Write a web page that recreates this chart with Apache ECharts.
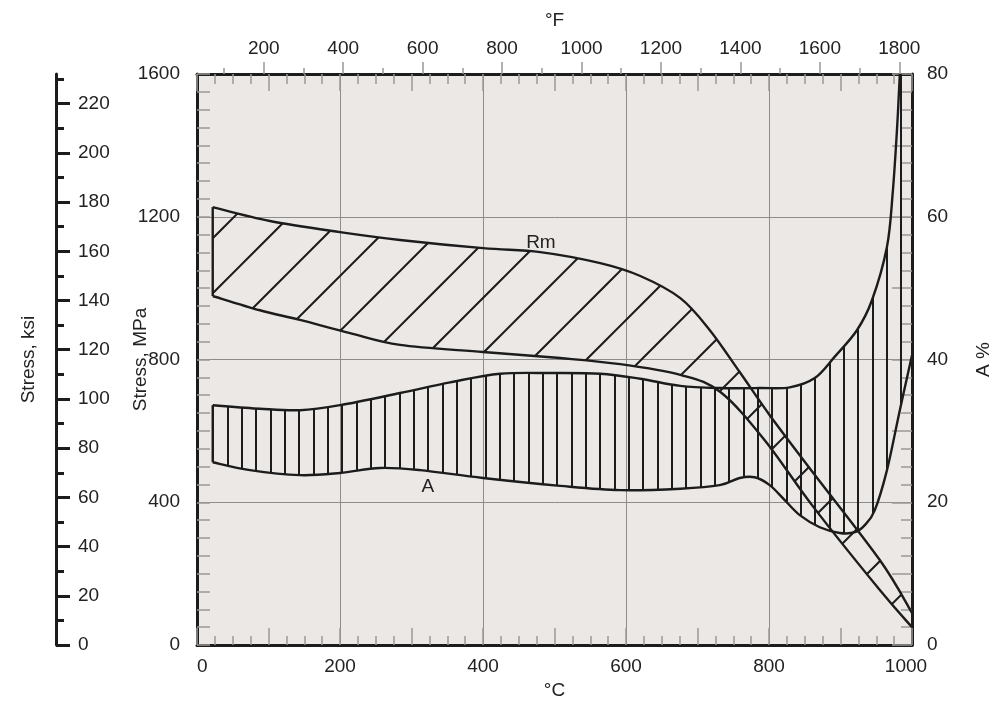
<!DOCTYPE html>
<html><head><meta charset="utf-8">
<script src="https://cdn.jsdelivr.net/npm/echarts@6/dist/echarts.min.js"></script>
<style>html,body{margin:0;padding:0;background:#fff}#c{width:997px;height:710px}</style>
</head><body><div id="c"></div>
<script>
// ---- tick / label data ----
const tempTicksC = [0, 200, 400, 600, 800, 1000];
const tempTicksF = [200, 400, 600, 800, 1000, 1200, 1400, 1600, 1800];
const tempMinorF = [100, 300, 500, 700, 900, 1100, 1300, 1500, 1700];
const stressTicksMPa = [0, 400, 800, 1200, 1600];
const stressTicksKsi = [0, 20, 40, 60, 80, 100, 120, 140, 160, 180, 200, 220];
const stressMinorKsi = [10, 30, 50, 70, 90, 110, 130, 150, 170, 190, 210, 230];
const elongTicks = [0, 20, 40, 60, 80];

// ---- curve data (temperature °C, stress MPa / elongation %) ----
const rmUpperT   = [22, 102, 200, 284, 400, 480, 564, 620, 676, 717, 759, 801, 862, 955, 1000];
const rmUpperMPa = [1227, 1188, 1157, 1135, 1112, 1101, 1070, 1034, 972, 883, 765, 644, 482, 238, 90];
const rmLowerT   = [22, 88, 144, 214, 284, 400, 508, 592, 676, 732, 794, 862, 955, 1000];
const rmLowerMPa = [978, 938, 911, 874, 841, 821, 804, 787, 757, 709, 574, 387, 154, 50];
const aUpperT    = [22, 88, 144, 200, 284, 354, 424, 494, 564, 620, 676, 731, 787, 829, 864, 892, 923, 944, 965, 973, 979, 983];
const aUpperPct  = [33.6, 33.1, 32.9, 33.6, 35.3, 36.8, 38.0, 38.1, 38.0, 37.3, 36.3, 36.0, 36.0, 36.1, 37.4, 40.4, 44.1, 48.3, 55.8, 63.3, 72.2, 80];
const aLowerT    = [22, 74, 144, 200, 256, 312, 400, 508, 592, 676, 731, 759, 780, 801, 822, 843, 871, 899, 920, 934, 948, 965, 983, 1000];
const aLowerPct  = [25.6, 24.5, 23.8, 24.1, 24.8, 24.5, 23.4, 22.3, 21.7, 21.9, 22.4, 23.4, 23.5, 22.4, 20.3, 18.2, 16.5, 15.7, 15.8, 16.8, 18.9, 24.5, 32.9, 40.6];
const curveLabelText = ['Rm', 'A'];
const curveLabelT    = [481, 323];
const curveLabelMPa  = [1126, 443];

const T_MAX = 1000, MPA_MAX = 1600, A_MAX = 80, KSI_MAX = 1600 / 6.894757;
const FONT = '"Liberation Sans", Arial, Helvetica, sans-serif';
const INK = '#1c1c1c', TXT = '#222', GRID = '#8e8c8b', TICK = '#9a9897';
const plain = v => String(v);

function zip(a, b) { return a.map((v, i) => [v, b[i]]); }

// hatch patterns (pure styling)
function diagPattern(size, phase) {
  const c = document.createElement('canvas'); c.width = c.height = size;
  const g = c.getContext('2d'); g.strokeStyle = INK; g.lineWidth = 2;
  g.beginPath();
  for (let k = -2; k <= 3; k++) {
    const cc = phase + k * size;
    g.moveTo(cc + 3, -3); g.lineTo(cc - size - 3, size + 3);
  }
  g.stroke();
  return { image: c, repeat: 'repeat' };
}
function vertPattern(xs, w) {
  const c = document.createElement('canvas'); c.width = w; c.height = 8;
  const g = c.getContext('2d'); g.fillStyle = INK;
  xs.forEach(x => g.fillRect(x - 1, 0, 2, 8));
  return { image: c, repeat: 'repeat' };
}
const rmHatch = diagPattern(55, 11);
const aHatch = vertPattern([13, 27, 41], 43);

function crPath(pts, cmd) {
  const f = v => v.toFixed(2);
  let d = cmd + f(pts[0][0]) + ' ' + f(pts[0][1]);
  for (let i = 0; i < pts.length - 1; i++) {
    const p0 = pts[i - 1] || pts[i], p1 = pts[i], p2 = pts[i + 1], p3 = pts[i + 2] || p2;
    const c1x = p1[0] + (p2[0] - p0[0]) / 6, c1y = p1[1] + (p2[1] - p0[1]) / 6;
    const c2x = p2[0] - (p3[0] - p1[0]) / 6, c2y = p2[1] - (p3[1] - p1[1]) / 6;
    d += ' C' + f(c1x) + ' ' + f(c1y) + ' ' + f(c2x) + ' ' + f(c2y) + ' ' + f(p2[0]) + ' ' + f(p2[1]);
  }
  return d;
}

function bandSeries(name, yIdx, upT, upV, loT, loV, pattern, extraCorner) {
  return {
    type: 'custom', name, xAxisIndex: 0, yAxisIndex: yIdx, data: [[0, 0]], silent: true, z: 5,
    renderItem: function (params, api) {
      const up = zip(upT, upV).map(p => api.coord(p));
      const lo = zip(loT, loV).map(p => api.coord(p));
      const loRev = lo.slice().reverse();
      let d = crPath(up, 'M');
      if (extraCorner) { const cpt = api.coord(extraCorner); d += ' L' + cpt[0] + ' ' + cpt[1]; }
      d += ' ' + crPath(loRev, 'L') + ' Z';
      const cs = params.coordSys;
      const line = { fill: 'none', stroke: INK, lineWidth: 2.4 };
      return {
        type: 'group',
        clipPath: { type: 'rect', shape: { x: cs.x, y: cs.y, width: cs.width, height: cs.height } },
        children: [
          { type: 'path', shape: { pathData: d }, style: { fill: pattern, stroke: null, lineWidth: 0 } },
          { type: 'path', shape: { pathData: crPath(up, 'M') }, style: line },
          { type: 'path', shape: { pathData: crPath(lo, 'M') }, style: line },
          { type: 'line', shape: { x1: up[0][0], y1: up[0][1], x2: lo[0][0], y2: lo[0][1] }, style: { stroke: INK, lineWidth: 2.4 } }
        ]
      };
    }
  };
}

const tickOverlay = (extra) => Object.assign({
  type: 'value', axisLine: { show: false, onZero: false }, axisLabel: { show: false }, splitLine: { show: false }
}, extra);
const nameStyle = { fontSize: 19, color: TXT };

const option = {
  animation: false,
  textStyle: { fontFamily: FONT },
  grid: { left: 197, right: 85, top: 74, bottom: 65, show: true, backgroundColor: '#ece8e6', borderWidth: 0,
          containLabel: false, outerBoundsMode: 'none' },
  xAxis: [
    { type: 'value', position: 'bottom', min: 0, max: T_MAX, interval: 200,
      name: '°C', nameLocation: 'middle', nameGap: 36, nameMoveOverlap: false, nameTextStyle: nameStyle,
      axisLine: { onZero: false, lineStyle: { color: INK, width: 3 } },
      axisTick: { show: false },
      axisLabel: { fontSize: 19, color: TXT, margin: 12, customValues: tempTicksC, alignMinLabel: 'left',
        formatter: v => (v === T_MAX ? '{m|' + v + '}' : String(v)),
        rich: { m: { fontSize: 19, color: TXT, fontFamily: FONT, padding: [0, 12, 0, 0] } } },
      splitLine: { show: true, lineStyle: { color: GRID, width: 1 } } },
    tickOverlay({ position: 'bottom', min: 0, max: T_MAX, interval: 100,
      axisTick: { show: true, inside: true, length: 17, lineStyle: { color: TICK, width: 1.5 } },
      minorTick: { show: true, splitNumber: 4, length: 9, lineStyle: { color: TICK, width: 1.5 } } }),
    { type: 'value', position: 'top', min: 0, max: T_MAX, interval: 100,
      axisLine: { onZero: false, lineStyle: { color: INK, width: 3 } },
      axisLabel: { show: false }, splitLine: { show: false },
      axisTick: { show: true, inside: true, length: 17, lineStyle: { color: TICK, width: 1.5 } },
      minorTick: { show: true, splitNumber: 4, length: 10, lineStyle: { color: TICK, width: 1.5 } } },
    { type: 'value', position: 'top', min: 32, max: 32 + 1.8 * T_MAX,
      name: '°F', nameLocation: 'middle', nameGap: 44, nameMoveOverlap: false, nameTextStyle: nameStyle,
      axisLine: { show: false, onZero: false }, splitLine: { show: false },
      axisTick: { show: true, inside: false, length: 12, customValues: tempTicksF, lineStyle: { color: TICK, width: 1.5 } },
      axisLabel: { fontSize: 19, color: TXT, margin: 16, customValues: tempTicksF, formatter: plain } },
    tickOverlay({ position: 'top', min: 32, max: 32 + 1.8 * T_MAX,
      axisTick: { show: true, inside: false, length: 6, customValues: tempMinorF, lineStyle: { color: TICK, width: 1.5 } } })
  ],
  yAxis: [
    { type: 'value', position: 'left', min: 0, max: MPA_MAX, interval: 400,
      name: 'Stress, MPa', nameLocation: 'middle', nameGap: 47, nameRotate: 90, nameMoveOverlap: false,
      nameTextStyle: nameStyle,
      axisLine: { onZero: false, lineStyle: { color: INK, width: 3 } },
      axisTick: { show: false },
      axisLabel: { fontSize: 19, color: TXT, margin: 17, customValues: stressTicksMPa, formatter: plain },
      splitLine: { show: true, lineStyle: { color: GRID, width: 1 } } },
    tickOverlay({ position: 'left', min: 0, max: MPA_MAX, interval: 100,
      axisTick: { show: true, inside: true, length: 13, lineStyle: { color: TICK, width: 1.5 } },
      minorTick: { show: true, splitNumber: 2, length: 13, lineStyle: { color: TICK, width: 1.5 } } }),
    { type: 'value', position: 'right', min: 0, max: A_MAX, interval: 20,
      name: 'A %', nameLocation: 'middle', nameGap: 62, nameRotate: 90, nameMoveOverlap: false,
      nameTextStyle: nameStyle,
      axisLine: { onZero: false, lineStyle: { color: INK, width: 3 } },
      axisTick: { show: false },
      axisLabel: { fontSize: 19, color: TXT, margin: 15, customValues: elongTicks, formatter: plain },
      splitLine: { show: false } },
    tickOverlay({ position: 'right', min: 0, max: A_MAX, interval: 10,
      axisTick: { show: true, inside: true, length: 20, lineStyle: { color: TICK, width: 1.5 } },
      minorTick: { show: true, splitNumber: 4, length: 11, lineStyle: { color: TICK, width: 1.5 } } }),
    { type: 'value', position: 'left', offset: 141, min: 0, max: KSI_MAX,
      name: 'Stress, ksi', nameLocation: 'middle', nameGap: 18, nameRotate: 90, nameMoveOverlap: false,
      nameTextStyle: nameStyle,
      axisLine: { onZero: false, lineStyle: { color: INK, width: 3 } },
      axisTick: { show: true, inside: true, length: 14, customValues: stressTicksKsi, lineStyle: { color: INK, width: 3 } },
      axisLabel: { fontSize: 19, color: TXT, inside: true, margin: 22, customValues: stressTicksKsi, formatter: plain },
      splitLine: { show: false } },
    tickOverlay({ position: 'left', offset: 141, min: 0, max: KSI_MAX,
      axisTick: { show: true, inside: true, length: 8, customValues: stressMinorKsi, lineStyle: { color: INK, width: 3 } } })
  ],
  series: [
    bandSeries('A', 2, aUpperT, aUpperPct, aLowerT, aLowerPct, aHatch, [T_MAX, A_MAX]),
    bandSeries('Rm', 0, rmUpperT, rmUpperMPa, rmLowerT, rmLowerMPa, rmHatch, null),
    { type: 'custom', name: 'labels', xAxisIndex: 0, yAxisIndex: 0, silent: true, z: 10,
      data: curveLabelT.map((t, i) => [t, curveLabelMPa[i], i]),
      renderItem: function (params, api) {
        const p = api.coord([api.value(0), api.value(1)]);
        return { type: 'text', x: p[0], y: p[1],
          style: { text: curveLabelText[api.value(2)], fill: TXT, fontSize: 19, fontFamily: FONT, align: 'center', verticalAlign: 'middle' } };
      } }
  ]
};
const chart = echarts.init(document.getElementById('c'), null, { renderer: 'canvas' });
chart.setOption(option);
</script></body></html>
